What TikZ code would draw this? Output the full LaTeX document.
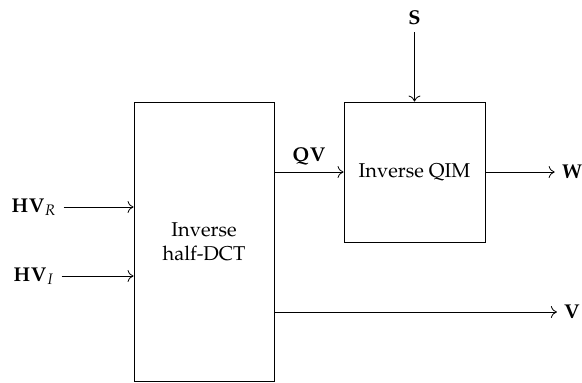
\documentclass[tikz,border=0pt]{standalone}
\usepackage[T1]{fontenc}
\usepackage{amsmath}
\usepackage{mathpazo}
\usetikzlibrary{arrows.meta}

\begin{document}
\begin{tikzpicture}[>={To[length=3pt,width=6pt]},x=0.5pt,y=-0.5pt,
    block/.style={draw,align=center,inner sep=0pt}]
  \useasboundingbox (0,0) rectangle (582,382);
  \node[block,minimum width=70pt,minimum height=139.5pt] (dct) at (204,241.5) {Inverse\\half-DCT};
  \node[block,minimum width=70.5pt,minimum height=70pt] (qim) at (414.5,172) {Inverse QIM};
  \node (s) at (414.5,18) {$\mathbf{S}$};
  \node (hvr) at (34,207) {$\mathbf{HV}_R$};
  \node (hvi) at (34,276) {$\mathbf{HV}_I$};
  \node (w) at (572,172) {$\mathbf{W}$};
  \node (v) at (572,312) {$\mathbf{V}$};
  \draw[->] (s) -- (qim);
  \draw[->] (hvr) -- (hvr -| dct.west);
  \draw[->] (hvi) -- (hvi -| dct.west);
  \draw[->] (dct.east |- qim.west) -- (qim.west) node[midway,above]{$\mathbf{QV}$};
  \draw[->] (qim) -- (w);
  \draw[->] (dct.east |- v.west) -- (v);
\end{tikzpicture}
\end{document}
